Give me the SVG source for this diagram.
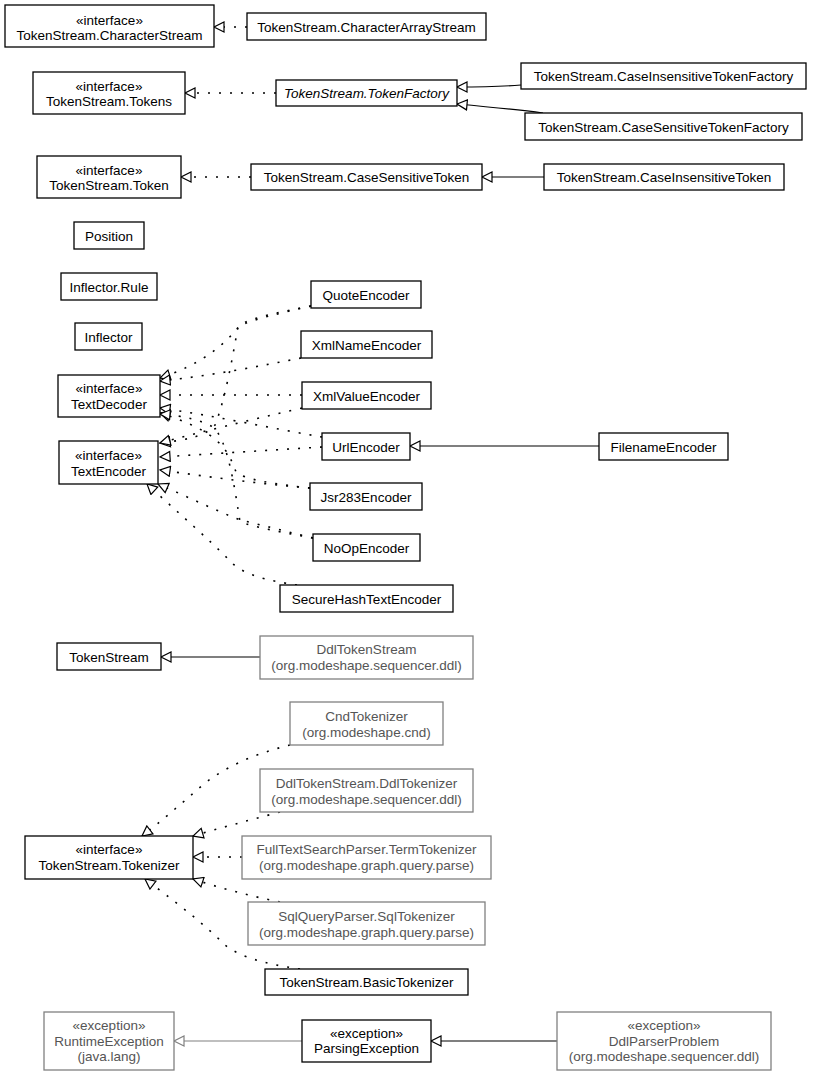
<svg xmlns="http://www.w3.org/2000/svg" width="813" height="1076" viewBox="0 0 813 1076">
<style>
  .n rect{fill:#fff;stroke:#000;stroke-width:1.3}
  .g rect{fill:#fff;stroke:#808080;stroke-width:1.3}
  text{font-family:"Liberation Sans",Arial,sans-serif;font-size:13.5px;text-anchor:middle;fill:#000}
  .g text{fill:#555}
  .it{font-style:italic}
  .e path{fill:none;stroke:#000;stroke-width:1.2}
  .e .d{stroke-width:1.6;stroke-dasharray:2,9;marker-end:url(#tri)}
  .e .s{marker-end:url(#tri)}
  .e .gs{stroke:#808080;marker-end:url(#trig)}
</style>
<defs>
  <marker id="tri" markerUnits="userSpaceOnUse" markerWidth="13" markerHeight="12" refX="11" refY="6" orient="auto" viewBox="0 0 13 12">
    <path d="M1,1 L11,6 L1,11 Z" fill="#fff" stroke="#000" stroke-width="1.2"/>
  </marker>
  <marker id="trig" markerUnits="userSpaceOnUse" markerWidth="13" markerHeight="12" refX="11" refY="6" orient="auto" viewBox="0 0 13 12">
    <path d="M1,1 L11,6 L1,11 Z" fill="#fff" stroke="#808080" stroke-width="1.2"/>
  </marker>
</defs>
<rect width="813" height="1076" fill="#fff"/>

<g id="edges" class="e">
  <path class="d" d="M247,27 L214,27"/>
  <path class="d" d="M276,93 L185,93"/>
  <path class="s" d="M521,85 C495,87 480,87 457,87"/>
  <path class="s" d="M543,113 C520,110 490,107 457,104"/>
  <path class="d" d="M251,177 L181,177"/>
  <path class="s" d="M544,177 L482,177"/>
  <path class="d" d="M311,306 C280,312 250,318 240,325 C225,345 200,365 160,378"/>
  <path class="d" d="M311,306 C282,313 252,319 238,327 C232,360 225,400 215,425 C205,437 185,440 160,443"/>
  <path class="d" d="M301,358 C260,366 210,376 160,381"/>
  <path class="d" d="M302,395 L160,395"/>
  <path class="d" d="M302,408 C250,420 200,432 160,443"/>
  <path class="d" d="M322,437 C270,428 210,415 160,408"/>
  <path class="d" d="M322,447 L160,457"/>
  <path class="d" d="M310,488 C275,484 245,480 236,472 C228,450 220,432 160,413"/>
  <path class="d" d="M310,488 C260,484 210,477 160,470"/>
  <path class="d" d="M313,538 C280,532 255,527 240,522 C235,490 228,440 213,427 C200,420 185,416 160,414"/>
  <path class="d" d="M313,538 C280,530 250,522 240,520 C215,510 190,498 158,484"/>
  <path class="d" d="M297,585 C265,580 245,575 232,563 C210,540 175,510 147,484"/>
  <path class="s" d="M599,446 L410,446"/>
  <path class="s" d="M260,657 L161,657"/>
  <path class="d" d="M290,745 C250,755 225,768 205,783 C180,805 160,822 142,836"/>
  <path class="d" d="M280,812 C250,820 220,828 193,836"/>
  <path class="d" d="M242,857 L193,857"/>
  <path class="d" d="M280,902 C250,896 220,888 193,879"/>
  <path class="d" d="M300,969 C265,964 240,957 225,945 C200,920 170,898 145,879"/>
  <path class="gs" d="M302,1041 L174,1041"/>
  <path class="s" d="M557,1041 L431,1041"/>
</g>

<g id="CharacterStream" class="n"><rect x="5" y="5" width="209" height="42"/><text x="109.5" y="24.5">«interface»</text><text x="109.5" y="40">TokenStream.CharacterStream</text></g>
<g id="CharacterArrayStream" class="n"><rect x="247" y="13" width="239" height="27"/><text x="366.5" y="31.5">TokenStream.CharacterArrayStream</text></g>
<g id="Tokens" class="n"><rect x="33" y="72" width="152" height="42"/><text x="109" y="90.5">«interface»</text><text x="109" y="106">TokenStream.Tokens</text></g>
<g id="TokenFactory" class="n"><rect x="276" y="80" width="181" height="26"/><text class="it" x="366.5" y="97.5">TokenStream.TokenFactory</text></g>
<g id="CaseInsensitiveTokenFactory" class="n"><rect x="521" y="63" width="285" height="26"/><text x="663.5" y="80.5">TokenStream.CaseInsensitiveTokenFactory</text></g>
<g id="CaseSensitiveTokenFactory" class="n"><rect x="525" y="113" width="277" height="27"/><text x="663.5" y="131.5">TokenStream.CaseSensitiveTokenFactory</text></g>
<g id="Token" class="n"><rect x="37" y="156" width="144" height="42"/><text x="109" y="174.5">«interface»</text><text x="109" y="190">TokenStream.Token</text></g>
<g id="CaseSensitiveToken" class="n"><rect x="251" y="164" width="231" height="26"/><text x="366.5" y="181.5">TokenStream.CaseSensitiveToken</text></g>
<g id="CaseInsensitiveToken" class="n"><rect x="544" y="164" width="240" height="26"/><text x="664" y="181.5">TokenStream.CaseInsensitiveToken</text></g>
<g id="Position" class="n"><rect x="74" y="222" width="70" height="27"/><text x="109" y="240.5">Position</text></g>
<g id="InflectorRule" class="n"><rect x="61" y="273" width="96" height="27"/><text x="109" y="291.5">Inflector.Rule</text></g>
<g id="Inflector" class="n"><rect x="75" y="323" width="67" height="27"/><text x="108.5" y="341.5">Inflector</text></g>
<g id="TextDecoder" class="n"><rect x="58" y="375" width="102" height="42"/><text x="109" y="392.5">«interface»</text><text x="109" y="409">TextDecoder</text></g>
<g id="TextEncoder" class="n"><rect x="59" y="441" width="99" height="43"/><text x="108.5" y="459.5">«interface»</text><text x="108.5" y="476">TextEncoder</text></g>
<g id="QuoteEncoder" class="n"><rect x="311" y="281" width="110" height="27"/><text x="366" y="299.5">QuoteEncoder</text></g>
<g id="XmlNameEncoder" class="n"><rect x="301" y="331" width="131" height="27"/><text x="366.5" y="349.5">XmlNameEncoder</text></g>
<g id="XmlValueEncoder" class="n"><rect x="302" y="382" width="129" height="27"/><text x="366.5" y="400.5">XmlValueEncoder</text></g>
<g id="UrlEncoder" class="n"><rect x="322" y="433" width="88" height="27"/><text x="366" y="451.5">UrlEncoder</text></g>
<g id="FilenameEncoder" class="n"><rect x="599" y="433" width="129" height="27"/><text x="663.5" y="451.5">FilenameEncoder</text></g>
<g id="Jsr283Encoder" class="n"><rect x="310" y="483" width="112" height="27"/><text x="366" y="501.5">Jsr283Encoder</text></g>
<g id="NoOpEncoder" class="n"><rect x="313" y="534" width="107" height="27"/><text x="366.5" y="552.5">NoOpEncoder</text></g>
<g id="SecureHashTextEncoder" class="n"><rect x="280" y="585" width="173" height="27"/><text x="366.5" y="603.5">SecureHashTextEncoder</text></g>
<g id="TokenStream" class="n"><rect x="57" y="643" width="104" height="27"/><text x="109" y="661.5">TokenStream</text></g>
<g id="DdlTokenStream" class="g"><rect x="260" y="636" width="213" height="43"/><text x="366.5" y="653.5">DdlTokenStream</text><text x="366.5" y="670">(org.modeshape.sequencer.ddl)</text></g>
<g id="CndTokenizer" class="g"><rect x="290" y="702" width="153" height="43"/><text x="366.5" y="720.5">CndTokenizer</text><text x="366.5" y="737">(org.modeshape.cnd)</text></g>
<g id="DdlTokenizer" class="g"><rect x="260" y="769" width="213" height="43"/><text x="366.5" y="787.5">DdlTokenStream.DdlTokenizer</text><text x="366.5" y="804">(org.modeshape.sequencer.ddl)</text></g>
<g id="Tokenizer" class="n"><rect x="25" y="836" width="168" height="43"/><text x="109" y="853.5">«interface»</text><text x="109" y="870">TokenStream.Tokenizer</text></g>
<g id="TermTokenizer" class="g"><rect x="242" y="836" width="249" height="43"/><text x="366.5" y="853.5">FullTextSearchParser.TermTokenizer</text><text x="366.5" y="870">(org.modeshape.graph.query.parse)</text></g>
<g id="SqlTokenizer" class="g"><rect x="248" y="902" width="237" height="43"/><text x="366.5" y="920.5">SqlQueryParser.SqlTokenizer</text><text x="366.5" y="937">(org.modeshape.graph.query.parse)</text></g>
<g id="BasicTokenizer" class="n"><rect x="265" y="969" width="203" height="26"/><text x="366.5" y="986.5">TokenStream.BasicTokenizer</text></g>
<g id="RuntimeException" class="g"><rect x="44" y="1012" width="130" height="58"/><text x="109" y="1030">«exception»</text><text x="109" y="1045.5">RuntimeException</text><text x="109" y="1061">(java.lang)</text></g>
<g id="ParsingException" class="n"><rect x="302" y="1020" width="129" height="42"/><text x="366.5" y="1037.5">«exception»</text><text x="366.5" y="1053">ParsingException</text></g>
<g id="DdlParserProblem" class="g"><rect x="557" y="1012" width="214" height="58"/><text x="664" y="1030">«exception»</text><text x="664" y="1045.5">DdlParserProblem</text><text x="664" y="1061">(org.modeshape.sequencer.ddl)</text></g>
</svg>
